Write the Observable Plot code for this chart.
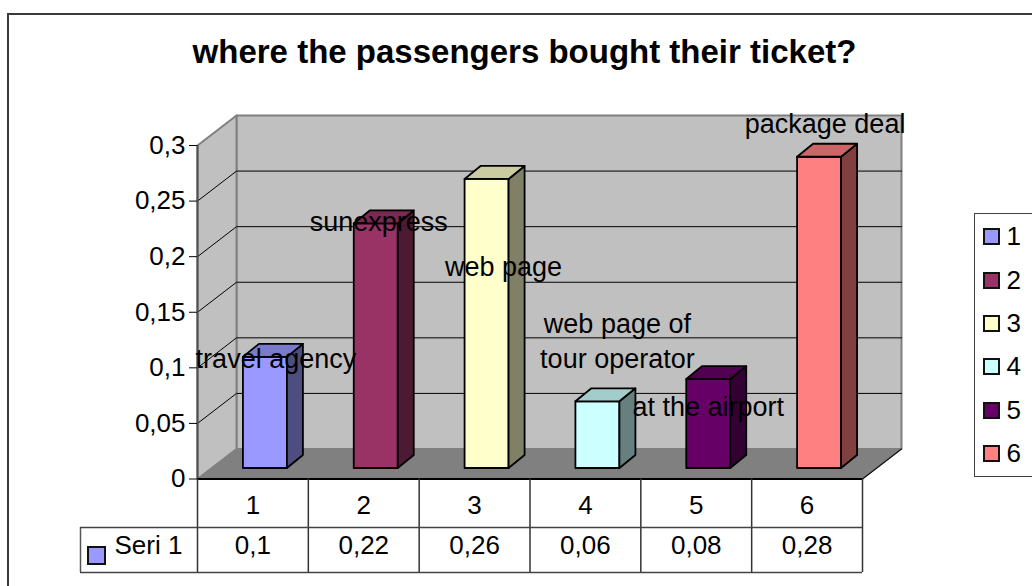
<!DOCTYPE html>
<html><head><meta charset="utf-8">
<script src="https://cdn.jsdelivr.net/npm/d3@7"></script>
<script src="https://cdn.jsdelivr.net/npm/@observablehq/plot@0.6"></script>
<style>
html,body{margin:0;padding:0;width:1032px;height:586px;overflow:hidden;background:#fff;font-family:"Liberation Sans",Arial,sans-serif;}
#frame{position:absolute;left:7px;top:13px;width:1100px;height:700px;border:2px solid #3a3a3a;box-sizing:border-box}
#chart{position:absolute;left:0;top:0}
#title{position:absolute;left:0;top:35px;width:1049px;text-align:center;font-weight:bold;font-size:33px;line-height:33px;white-space:nowrap;color:#000}
#legend{position:absolute;left:974px;top:213px;width:120px;height:264px;border:1.5px solid #404040;box-sizing:border-box;padding-top:1px;background:#fff}
.item{display:flex;align-items:center;height:43.4px;font-size:26px;color:#000}
.sw{width:17px;height:17px;border:2px solid #111;box-sizing:border-box;margin-left:7.5px;margin-right:7px}
</style></head><body>
<div id="frame"></div>
<div id="chart"></div>
<div id="title"></div>
<div id="legend"></div>
<script>
// ---- data ----
const title = "where the passengers bought their ticket?";
const categories = ["1", "2", "3", "4", "5", "6"];
const values = [0.1, 0.22, 0.26, 0.06, 0.08, 0.28];
const barLabels = ["travel agency", "sunexpress", "web page", "web page of\ntour operator", "at the airport", "package deal"];
const barColors = ["#9999FF", "#993366", "#FFFFCC", "#CCFFFF", "#660066", "#FF8080"];
const seriesName = "Seri 1";
const yTicks = [0, 0.05, 0.1, 0.15, 0.2, 0.25, 0.3];
const valueText = ["0,1", "0,22", "0,26", "0,06", "0,08", "0,28"];

// ---- layout / styles ----
const W = 1032, H = 586, L = 197, R = 862, T = 145, B = 478.5;
const xPerPx = 6 / (R - L), yPerPx = 0.3 / (B - T);
const DEPTH = [39, 30], BAR_F = [12, 11], BAR_B = [28, 24], HALF = 22;
const labelOffsets = [[23, 0], [15, -3], [29, 86], [32, -44], [12, 26], [18, -35]];
const FONT = "'Liberation Sans', Arial, sans-serif";

const P = (x, y, o = [0, 0]) => ({x: x + o[0] * xPerPx, y: y + o[1] * yPerPx});
const hw = HALF * xPerPx;
const idx = categories.map((_, i) => i + 1);
const shade = (c, k) => { const r = d3.rgb(c); return d3.rgb(r.r * k, r.g * k, r.b * k).formatHex(); };
const poly = (pts, o) => Plot.line([...pts, pts[0]], {x: "x", y: "y", curve: "linear", strokeLinejoin: "round", ...o});

const marks = [];
// back wall
marks.push(poly([P(0.5, 0, DEPTH), P(6.5, 0, DEPTH), P(6.5, 0.3, DEPTH), P(0.5, 0.3, DEPTH)], {fill: "#C0C0C0", stroke: "#808080", strokeWidth: 2}));
// side wall
marks.push(poly([P(0.5, 0), P(0.5, 0, DEPTH), P(0.5, 0.3, DEPTH), P(0.5, 0.3)], {fill: "#C0C0C0", stroke: "#808080", strokeWidth: 2}));
// gridlines
yTicks.filter(t => t > 0 && t < 0.3).forEach(t => {
  marks.push(Plot.line([P(0.5, t), P(0.5, t, DEPTH), P(6.5, t, DEPTH)], {x: "x", y: "y", stroke: "#000", strokeWidth: 1}));
});
// floor
marks.push(poly([P(0.5, 0), P(6.5, 0), P(6.5, 0, DEPTH), P(0.5, 0, DEPTH)], {fill: "#808080", stroke: "#808080", strokeWidth: 1}));
marks.push(Plot.line([P(6.5, 0), P(6.5, 0, DEPTH)], {x: "x", y: "y", stroke: "#111", strokeWidth: 1.2}));
// axis line
marks.push(Plot.ruleX([0.5], {y1: 0, y2: 0.3, stroke: "#505050", strokeWidth: 2}));
// bars
idx.forEach((i, k) => {
  const v = values[k], c = barColors[k];
  const st = {stroke: "#000", strokeWidth: 1.8};
  marks.push(poly([P(i - hw, 0, BAR_F), P(i + hw, 0, BAR_F), P(i + hw, v, BAR_F), P(i - hw, v, BAR_F)], {fill: c, ...st}));
  marks.push(poly([P(i + hw, 0, BAR_F), P(i + hw, 0, BAR_B), P(i + hw, v, BAR_B), P(i + hw, v, BAR_F)], {fill: shade(c, 0.5), ...st}));
  marks.push(poly([P(i - hw, v, BAR_F), P(i + hw, v, BAR_F), P(i + hw, v, BAR_B), P(i - hw, v, BAR_B)], {fill: shade(c, 0.8), ...st}));
});
// bar labels
idx.forEach((i, k) => {
  marks.push(Plot.text([i], {x: d => d, y: values[k], text: () => barLabels[k], dx: labelOffsets[k][0], dy: labelOffsets[k][1],
    lineAnchor: "bottom", lineHeight: 1.3, fontSize: 27, fill: "#000"}));
});
// y axis
marks.push(Plot.axisY(yTicks, {tickFormat: d => String(d).replace(".", ","), tickSize: 8, tickPadding: 4, fontSize: 26, stroke: "#000", fill: "#000", label: null}));
// front floor edge (table top)
marks.push(Plot.ruleY([0], {x1: 0.5, x2: 6.5, stroke: "#000", strokeWidth: 2}));
// data table
const row1 = -48.5 * yPerPx, row2 = -93.5 * yPerPx, tableLeft = 0.5 - 117 * xPerPx;
marks.push(Plot.ruleX(d3.range(0.5, 7, 1), {y1: 0, y2: row2, stroke: "#333", strokeWidth: 1.5}));
marks.push(Plot.ruleX([tableLeft], {y1: row1, y2: row2, stroke: "#555", strokeWidth: 1.5}));
marks.push(Plot.ruleY([row1, row2], {x1: tableLeft, x2: 6.5, stroke: "#444", strokeWidth: 1.5}));
marks.push(Plot.text(idx, {x: d => d, y: 0, text: d => categories[d - 1], dy: 34.5, lineAnchor: "bottom", fontSize: 26, fill: "#000"}));
marks.push(Plot.text(idx, {x: d => d, y: 0, text: d => valueText[d - 1], dy: 74.5, lineAnchor: "bottom", fontSize: 26, fill: "#000"}));
marks.push(Plot.rect([0], {x1: 0.5 - 109 * xPerPx, x2: 0.5 - 92 * xPerPx, y1: -(547 - B) * yPerPx, y2: -(564 - B) * yPerPx, fill: barColors[0], stroke: "#111", strokeWidth: 2}));
marks.push(Plot.text([seriesName], {x: 0.5 - 83 * xPerPx, y: 0, text: d => d, dy: 74.5, textAnchor: "start", lineAnchor: "bottom", fontSize: 26, fill: "#000"}));

const chart = Plot.plot({
  width: W, height: H,
  marginLeft: L, marginRight: W - R, marginTop: T, marginBottom: H - B,
  x: {type: "linear", domain: [0.5, 6.5], axis: null},
  y: {type: "linear", domain: [0, 0.3], axis: null},
  style: {fontFamily: FONT, fontSize: "26px", background: "transparent", overflow: "visible"},
  marks
});
document.getElementById("chart").appendChild(chart);
document.getElementById("title").textContent = title;
const lg = document.getElementById("legend");
categories.forEach((c, k) => {
  const it = document.createElement("div"); it.className = "item";
  const sw = document.createElement("span"); sw.className = "sw"; sw.style.background = barColors[k];
  const tx = document.createElement("span"); tx.textContent = c;
  it.appendChild(sw); it.appendChild(tx); lg.appendChild(it);
});
</script>
</body></html>
